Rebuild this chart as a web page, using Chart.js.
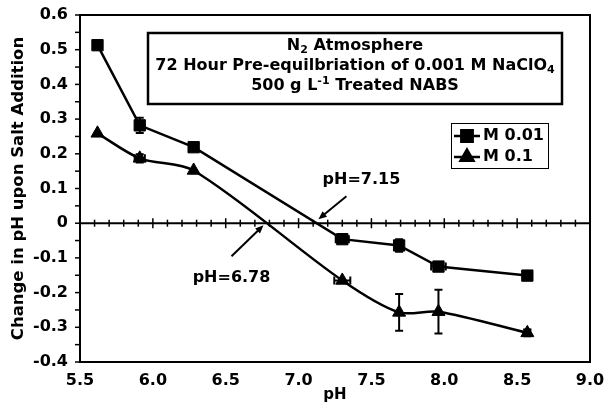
<!DOCTYPE html>
<html>
<head>
<meta charset="utf-8">
<script src="https://cdn.jsdelivr.net/npm/chart.js@4.4.1/dist/chart.umd.min.js"></script>
<style>
  html, body { margin: 0; padding: 0; background: #fff; }
</style>
</head>
<body>
<canvas id="phChart" width="605" height="404"></canvas>
<script>
// --- data: change in pH after salt addition ---
const phLow = [5.62, 5.91, 6.28, 7.30, 7.69, 7.96, 8.57];
const shiftLow = [0.513, 0.282, 0.219, -0.046, -0.064, -0.125, -0.151];
const errLowY = [0, 0.022, 0, 0, 0.018, 0, 0];
const errLowX = [0, 0, 0, 0.045, 0.025, 0.05, 0];

const phHigh = [5.62, 5.91, 6.28, 7.30, 7.69, 7.96, 8.57];
const shiftHigh = [0.259, 0.187, 0.152, -0.165, -0.257, -0.255, -0.316];
const errHighY = [0, 0.012, 0, 0, 0.053, 0.063, 0.01];
const errHighX = [0, 0.035, 0, 0.055, 0, 0, 0.02];

const seriesLabels = ['M 0.01', 'M 0.1'];
const xTicks = [5.5, 6.0, 6.5, 7.0, 7.5, 8.0, 8.5, 9.0];
const yTicks = [-0.4, -0.3, -0.2, -0.1, 0, 0.1, 0.2, 0.3, 0.4, 0.5, 0.6];

// zero crossings marked with arrows
const crossPH = [7.15, 6.78];
const crossText = ['pH=7.15', 'pH=6.78'];

const FONT = '"DejaVu Sans", Verdana, sans-serif';

const boxLines = [
  [['N'], ['2', 'sub'], [' Atmosphere']],
  [['72 Hour Pre-equilbriation of 0.001 M NaClO'], ['4', 'sub']],
  [['500 g L'], ['-1', 'sup'], [' Treated NABS']]
];

function segFont(kind) {
  return kind ? 'bold 11px ' + FONT : 'bold 16px ' + FONT;
}

function richWidth(ctx, segs) {
  let w = 0;
  segs.forEach(s => {
    ctx.font = segFont(s[1]);
    w += ctx.measureText(s[0]).width;
  });
  return w;
}

function drawRich(ctx, segs, cx, cy) {
  let x = cx - richWidth(ctx, segs) / 2;
  ctx.textAlign = 'left';
  ctx.textBaseline = 'middle';
  segs.forEach(s => {
    ctx.font = segFont(s[1]);
    const dy = s[1] === 'sub' ? 4 : s[1] === 'sup' ? -5 : 0;
    ctx.fillText(s[0], x, cy + dy);
    x += ctx.measureText(s[0]).width;
  });
}

function arrow(ctx, x1, y1, x2, y2) {
  const a = Math.atan2(y2 - y1, x2 - x1);
  const h = 9;
  ctx.beginPath();
  ctx.moveTo(x1, y1);
  ctx.lineTo(x2 - Math.cos(a) * 5, y2 - Math.sin(a) * 5);
  ctx.stroke();
  ctx.beginPath();
  ctx.moveTo(x2, y2);
  ctx.lineTo(x2 - h * Math.cos(a - 0.4), y2 - h * Math.sin(a - 0.4));
  ctx.lineTo(x2 - h * Math.cos(a + 0.4), y2 - h * Math.sin(a + 0.4));
  ctx.closePath();
  ctx.fill();
}

// keep tick labels from pushing the plot area inwards
function noLabelPadding(s) {
  s.paddingTop = 0;
  s.paddingBottom = 0;
  s.paddingLeft = 0;
  s.paddingRight = 0;
}

const extras = {
  id: 'extras',
  beforeDatasetsDraw(chart) {
    const { ctx, chartArea: a, scales: { x, y } } = chart;
    ctx.save();
    ctx.strokeStyle = '#000';
    ctx.fillStyle = '#000';

    // zero line with its tick marks
    const y0 = y.getPixelForValue(0);
    ctx.lineWidth = 2;
    ctx.beginPath();
    ctx.moveTo(a.left, y0);
    ctx.lineTo(a.right, y0);
    ctx.stroke();
    ctx.lineWidth = 1.5;
    for (let k = 56; k < 90; k++) {
      const px = x.getPixelForValue(k / 10);
      const len = k % 5 === 0 ? 5 : 3.5;
      ctx.beginPath();
      ctx.moveTo(px, y0 - len);
      ctx.lineTo(px, y0 + len);
      ctx.stroke();
    }

    // left axis ticks every 0.05
    for (let k = -8; k <= 12; k++) {
      const py = y.getPixelForValue(k / 20);
      ctx.beginPath();
      ctx.moveTo(a.left - 5, py);
      ctx.lineTo(a.left, py);
      ctx.stroke();
    }

    // error bars
    const bars = [[phLow, shiftLow, errLowX, errLowY], [phHigh, shiftHigh, errHighX, errHighY]];
    ctx.lineWidth = 2;
    bars.forEach(([xs, ys, ex, ey]) => {
      xs.forEach((v, i) => {
        const px = x.getPixelForValue(v);
        const py = y.getPixelForValue(ys[i]);
        if (ey[i] > 0) {
          const t = y.getPixelForValue(ys[i] + ey[i]);
          const b = y.getPixelForValue(ys[i] - ey[i]);
          ctx.beginPath();
          ctx.moveTo(px, t); ctx.lineTo(px, b);
          ctx.moveTo(px - 4, t); ctx.lineTo(px + 4, t);
          ctx.moveTo(px - 4, b); ctx.lineTo(px + 4, b);
          ctx.stroke();
        }
        if (ex[i] > 0) {
          const l = x.getPixelForValue(v - ex[i]);
          const r = x.getPixelForValue(v + ex[i]);
          ctx.beginPath();
          ctx.moveTo(l, py); ctx.lineTo(r, py);
          ctx.moveTo(l, py - 4); ctx.lineTo(l, py + 4);
          ctx.moveTo(r, py - 4); ctx.lineTo(r, py + 4);
          ctx.stroke();
        }
      });
    });
    ctx.restore();
  },
  afterDraw(chart) {
    const { ctx, chartArea: a, scales: { x, y } } = chart;
    ctx.save();
    ctx.strokeStyle = '#000';
    ctx.fillStyle = '#000';

    // frame
    ctx.lineWidth = 2;
    ctx.strokeRect(a.left, a.top, a.right - a.left, a.bottom - a.top);

    // header box
    ctx.lineWidth = 2.5;
    ctx.fillStyle = '#fff';
    ctx.fillRect(148, 33, 414, 71);
    ctx.strokeRect(148, 33, 414, 71);
    ctx.fillStyle = '#000';
    const cy = [46, 66, 86];
    boxLines.forEach((segs, i) => drawRich(ctx, segs, 355, cy[i]));

    // legend
    ctx.lineWidth = 1;
    ctx.fillStyle = '#fff';
    ctx.fillRect(451, 123, 97, 45);
    ctx.strokeRect(451.5, 123.5, 97, 45);
    ctx.fillStyle = '#000';
    chart.data.datasets.forEach((ds, i) => {
      const ly = 136 + i * 21;
      ctx.lineWidth = 2.5;
      ctx.beginPath();
      ctx.moveTo(454, ly); ctx.lineTo(480, ly);
      ctx.stroke();
      Chart.helpers.drawPoint(ctx, {
        pointStyle: ds.pointStyle, radius: ds.pointRadius, borderWidth: 1, rotation: 0
      }, 467, ly);
      ctx.fill();
      ctx.font = 'bold 16px ' + FONT;
      ctx.textAlign = 'left';
      ctx.textBaseline = 'middle';
      ctx.fillText(seriesLabels[i], 483, ly);
    });

    // crossing arrows
    const y0 = y.getPixelForValue(0);
    ctx.lineWidth = 2;
    const tip1 = [x.getPixelForValue(crossPH[0]) - 2, y0 - 4];
    arrow(ctx, tip1[0] + 28, tip1[1] - 23, tip1[0], tip1[1]);
    const tip2 = [x.getPixelForValue(crossPH[1]) - 3, y0 + 2];
    arrow(ctx, tip2[0] - 32, tip2[1] + 31, tip2[0], tip2[1]);
    ctx.font = 'bold 16px ' + FONT;
    ctx.textAlign = 'center';
    ctx.textBaseline = 'middle';
    ctx.fillText(crossText[0], tip1[0] + 43, tip1[1] - 39);
    ctx.fillText(crossText[1], tip2[0] - 32, tip2[1] + 53);
    ctx.restore();
  }
};

const ctx = document.getElementById('phChart').getContext('2d');
new Chart(ctx, {
  type: 'scatter',
  data: {
    datasets: [
      {
        label: seriesLabels[0],
        data: phLow.map((v, i) => ({ x: v, y: shiftLow[i] })),
        showLine: true,
        tension: 0,
        borderColor: '#000',
        backgroundColor: '#000',
        borderWidth: 2.5,
        pointStyle: 'rect',
        pointRadius: 8,
        pointBorderWidth: 1
      },
      {
        label: seriesLabels[1],
        data: phHigh.map((v, i) => ({ x: v, y: shiftHigh[i] })),
        showLine: true,
        tension: 0.3,
        borderColor: '#000',
        backgroundColor: '#000',
        borderWidth: 2.5,
        pointStyle: 'triangle',
        pointRadius: 7.5,
        pointBorderWidth: 1
      }
    ]
  },
  options: {
    responsive: false,
    animation: false,
    devicePixelRatio: 1,
    layout: { padding: { left: 4, right: 15, top: 15, bottom: 0 } },
    plugins: { legend: { display: false }, tooltip: { enabled: false } },
    scales: {
      x: {
        type: 'linear',
        min: 5.5,
        max: 9.0,
        afterBuildTicks: s => { s.ticks = xTicks.map(v => ({ value: v })); },
        afterFit: s => { s.height = 42; noLabelPadding(s); },
        grid: { display: false, drawTicks: false },
        border: { display: true, color: '#000', width: 2 },
        ticks: {
          color: '#000',
          padding: 9,
          maxRotation: 0,
          autoSkip: false,
          font: { family: FONT, size: 16, weight: 'bold' },
          callback: v => v.toFixed(1)
        },
        title: {
          display: true,
          text: 'pH',
          color: '#000',
          padding: { top: 0, bottom: 0 },
          font: { family: FONT, size: 15, weight: 'bold' }
        }
      },
      y: {
        type: 'linear',
        min: -0.4,
        max: 0.6,
        afterBuildTicks: s => { s.ticks = yTicks.map(v => ({ value: v })); },
        afterFit: s => { s.width = 76; noLabelPadding(s); },
        grid: { display: false, drawTicks: false },
        border: { display: true, color: '#000', width: 2 },
        ticks: {
          color: '#000',
          padding: 12,
          autoSkip: false,
          font: { family: FONT, size: 16, weight: 'bold' },
          callback: v => (Math.abs(v) < 1e-9 ? '0' : v.toFixed(1))
        },
        title: {
          display: true,
          text: 'Change in pH upon Salt Addition',
          color: '#000',
          padding: { top: 5, bottom: 0 },
          font: { family: FONT, size: 16.5, weight: 'bold' }
        }
      }
    }
  },
  plugins: [extras]
});
</script>
</body>
</html>
